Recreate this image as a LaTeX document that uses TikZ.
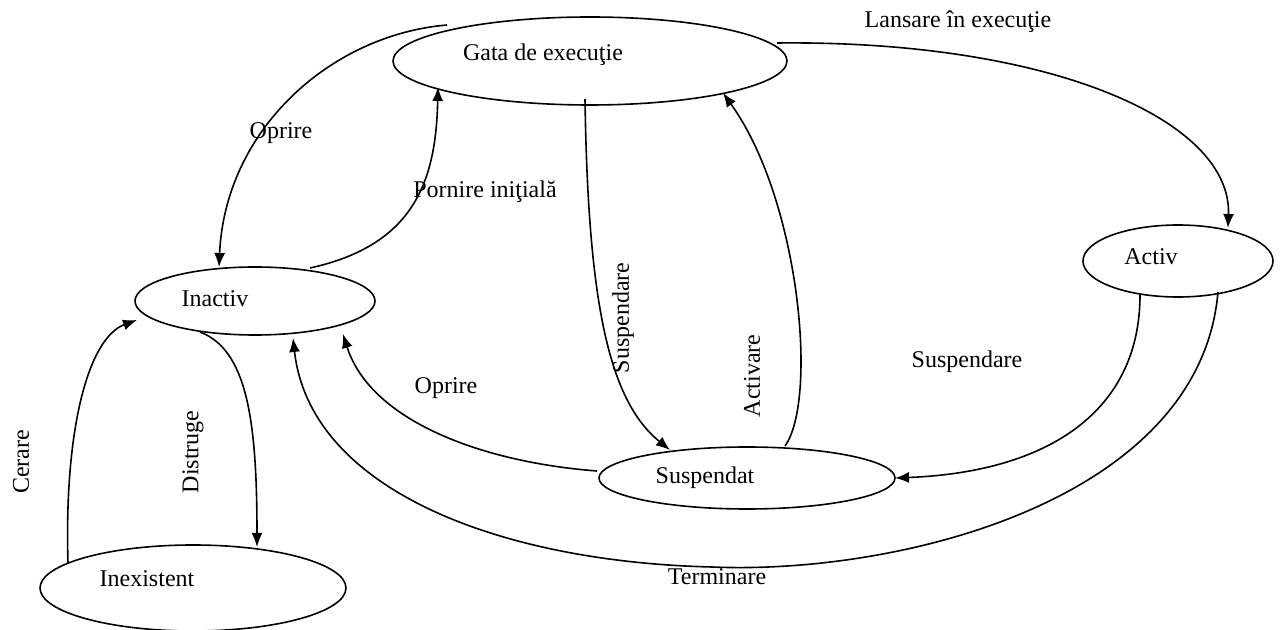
\documentclass[tikz,border=0pt]{standalone}
\usepackage{fontspec}
\setmainfont{Liberation Serif}
\usetikzlibrary{shapes.geometric,arrows.meta}
\begin{document}
\begin{tikzpicture}[x=0.5pt,y=-0.5pt,
  state/.style={draw,ellipse,line width=0.8pt,inner sep=0pt},
  lbl/.style={inner sep=0pt,font=\fontsize{12}{14}\selectfont},
  conn/.style={line width=0.8pt,-{Latex[length=7pt,width=5.5pt]}}]
\useasboundingbox (0,0) rectangle (1282,630);

% states
\node[state,minimum width=197pt,minimum height=44pt] (gata) at (590,61) {};
\node[state,minimum width=120pt,minimum height=34pt] (inactiv) at (255,301) {};
\node[state,minimum width=153pt,minimum height=43pt] (inex) at (193,588) {};
\node[state,minimum width=148pt,minimum height=31pt] (susp) at (747,478) {};
\node[state,minimum width=95pt,minimum height=36pt] (activ) at (1178,261) {};

\node[lbl] (gata-t) at (543,55) {Gata de execuţie};
\node[lbl] (inactiv-t) at (215,299) {Inactiv};
\node[lbl] (inex-t) at (147,579) {Inexistent};
\node[lbl] (susp-t) at (705,478) {Suspendat};
\node[lbl] (activ-t) at (1151,257) {Activ};

% free ends of connectors
\coordinate (g-oprire) at (447,25);
\coordinate (g-lans) at (777,43);
\coordinate (g-susp) at (585,99);
\coordinate (g-porn) at (438,87);
\coordinate (g-act) at (723,93);
\coordinate (i-top) at (219,267);
\coordinate (i-tr) at (310,268);
\coordinate (i-bl) at (200,332);
\coordinate (i-br) at (343,334);
\coordinate (i-b) at (293,338);
\coordinate (i-l) at (137,320);
\coordinate (x-top) at (257,547);
\coordinate (x-tl) at (68,563);
\coordinate (s-top) at (670,450);
\coordinate (s-tr) at (785,446);
\coordinate (s-l) at (597,471);
\coordinate (s-r) at (895,478);
\coordinate (a-top) at (1228,228);
\coordinate (a-bl) at (1140,295);
\coordinate (a-br) at (1218,292);
\coordinate (term) at (712,567);

% transitions
\draw[conn] (g-oprire) .. controls (330,35) and (225,130) .. (i-top);
\draw[conn] (i-tr) .. controls (415,245) and (436,180) .. (g-porn);
\draw[conn] (g-lans) .. controls (1050,40) and (1232,120) .. (a-top);
\draw[conn] (g-susp) .. controls (588,300) and (608,400) .. (s-top);
\draw[conn] (s-tr) .. controls (818,400) and (800,200) .. (g-act);
\draw[conn] (a-bl) .. controls (1140,410) and (1050,472) .. (s-r);
\draw[conn] (a-br) .. controls (1200,500) and (900,575) .. (term)
  .. controls (500,562) and (310,490) .. (i-b);
\draw[conn] (s-l) .. controls (480,462) and (370,420) .. (i-br);
\draw[conn] (i-bl) .. controls (247,350) and (257,420) .. (x-top);
\draw[conn] (x-tl) .. controls (64,430) and (88,338) .. (i-l);

% transition labels
\node[lbl] (l-lans) at (958,22) {Lansare în execuţie};
\node[lbl] (l-opr1) at (281,133) {Oprire};
\node[lbl] (l-porn) at (485,192) {Pornire iniţială};
\node[lbl,rotate=90] (l-susp1) at (623,318) {Suspendare};
\node[lbl,rotate=90] (l-act) at (752,376) {Activare};
\node[lbl] (l-susp2) at (967,362) {Suspendare};
\node[lbl] (l-opr2) at (446,388) {Oprire};
\node[lbl,rotate=90] (l-cer) at (21,462) {Cerare};
\node[lbl,rotate=90] (l-dis) at (193,452) {Distruge};
\node[lbl] (l-term) at (717,577) {Terminare};
\end{tikzpicture}
\end{document}
